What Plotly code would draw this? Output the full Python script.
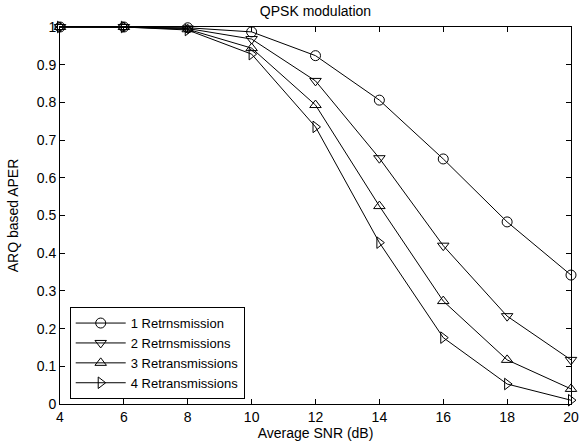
import plotly.graph_objects as go

snr = [4, 6, 8, 10, 12, 14, 16, 18, 20]
r1 = [1.0, 1.0, 0.998, 0.987, 0.924, 0.806, 0.650, 0.483, 0.342]
r2 = [1.0, 1.0, 0.996, 0.968, 0.857, 0.652, 0.420, 0.233, 0.117]
r3 = [1.0, 1.0, 0.994, 0.944, 0.793, 0.525, 0.273, 0.117, 0.040]
r4 = [1.0, 1.0, 0.992, 0.928, 0.735, 0.428, 0.176, 0.053, 0.010]
names = ["1 Retrnsmission", "2 Retrnsmissions", "3 Retransmissions", "4 Retransmissions"]
symbols = ["circle-open", "triangle-down-open", "triangle-up-open", "triangle-right-open"]
series = [r1, r2, r3, r4]

FONT = "Liberation Sans, Arial"

fig = go.Figure()
for ys, nm, sym in zip(series, names, symbols):
    fig.add_trace(go.Scatter(
        x=snr, y=ys, name=nm, mode="lines+markers", cliponaxis=False,
        line=dict(color="black", width=1),
        marker=dict(symbol=sym, size=10, color="black", line=dict(color="black", width=1)),
    ))

axis_common = dict(
    showline=True, linecolor="black", linewidth=1, mirror="ticks",
    ticks="inside", ticklen=5, tickcolor="black", showgrid=False, zeroline=False,
    tickfont=dict(family=FONT, size=14, color="black"),
    ticklabeloverflow="allow",
)
fig.update_xaxes(range=[4, 20], tickvals=snr, ticktext=[str(v) for v in snr],
                 title=dict(text="Average SNR (dB)", standoff=3,
                            font=dict(family=FONT, size=14, color="black")),
                 **axis_common)
yt = [0, 0.1, 0.2, 0.3, 0.4, 0.5, 0.6, 0.7, 0.8, 0.9, 1]
fig.update_yaxes(range=[0, 1], tickvals=yt,
                 ticktext=["0", "0.1", "0.2", "0.3", "0.4", "0.5", "0.6", "0.7", "0.8", "0.9", "1"],
                 title=dict(text="ARQ based APER", standoff=14,
                            font=dict(family=FONT, size=14, color="black")),
                 **axis_common)
fig.update_layout(
    width=585, height=448,
    margin=dict(l=60, r=6, t=27, b=44),
    paper_bgcolor="white", plot_bgcolor="white",
    title=dict(text="QPSK modulation", x=0.5, xref="paper", xanchor="center",
               y=1, yref="container", yanchor="top", pad=dict(t=6),
               font=dict(family=FONT, size=14, color="black")),
    legend=dict(x=0.019, y=0.013, xanchor="left", yanchor="bottom",
                bordercolor="black", borderwidth=1, bgcolor="white",
                font=dict(family=FONT, size=13, color="black"),
                tracegroupgap=0, itemwidth=50),
    showlegend=True,
)
fig.write_html("out.html")
